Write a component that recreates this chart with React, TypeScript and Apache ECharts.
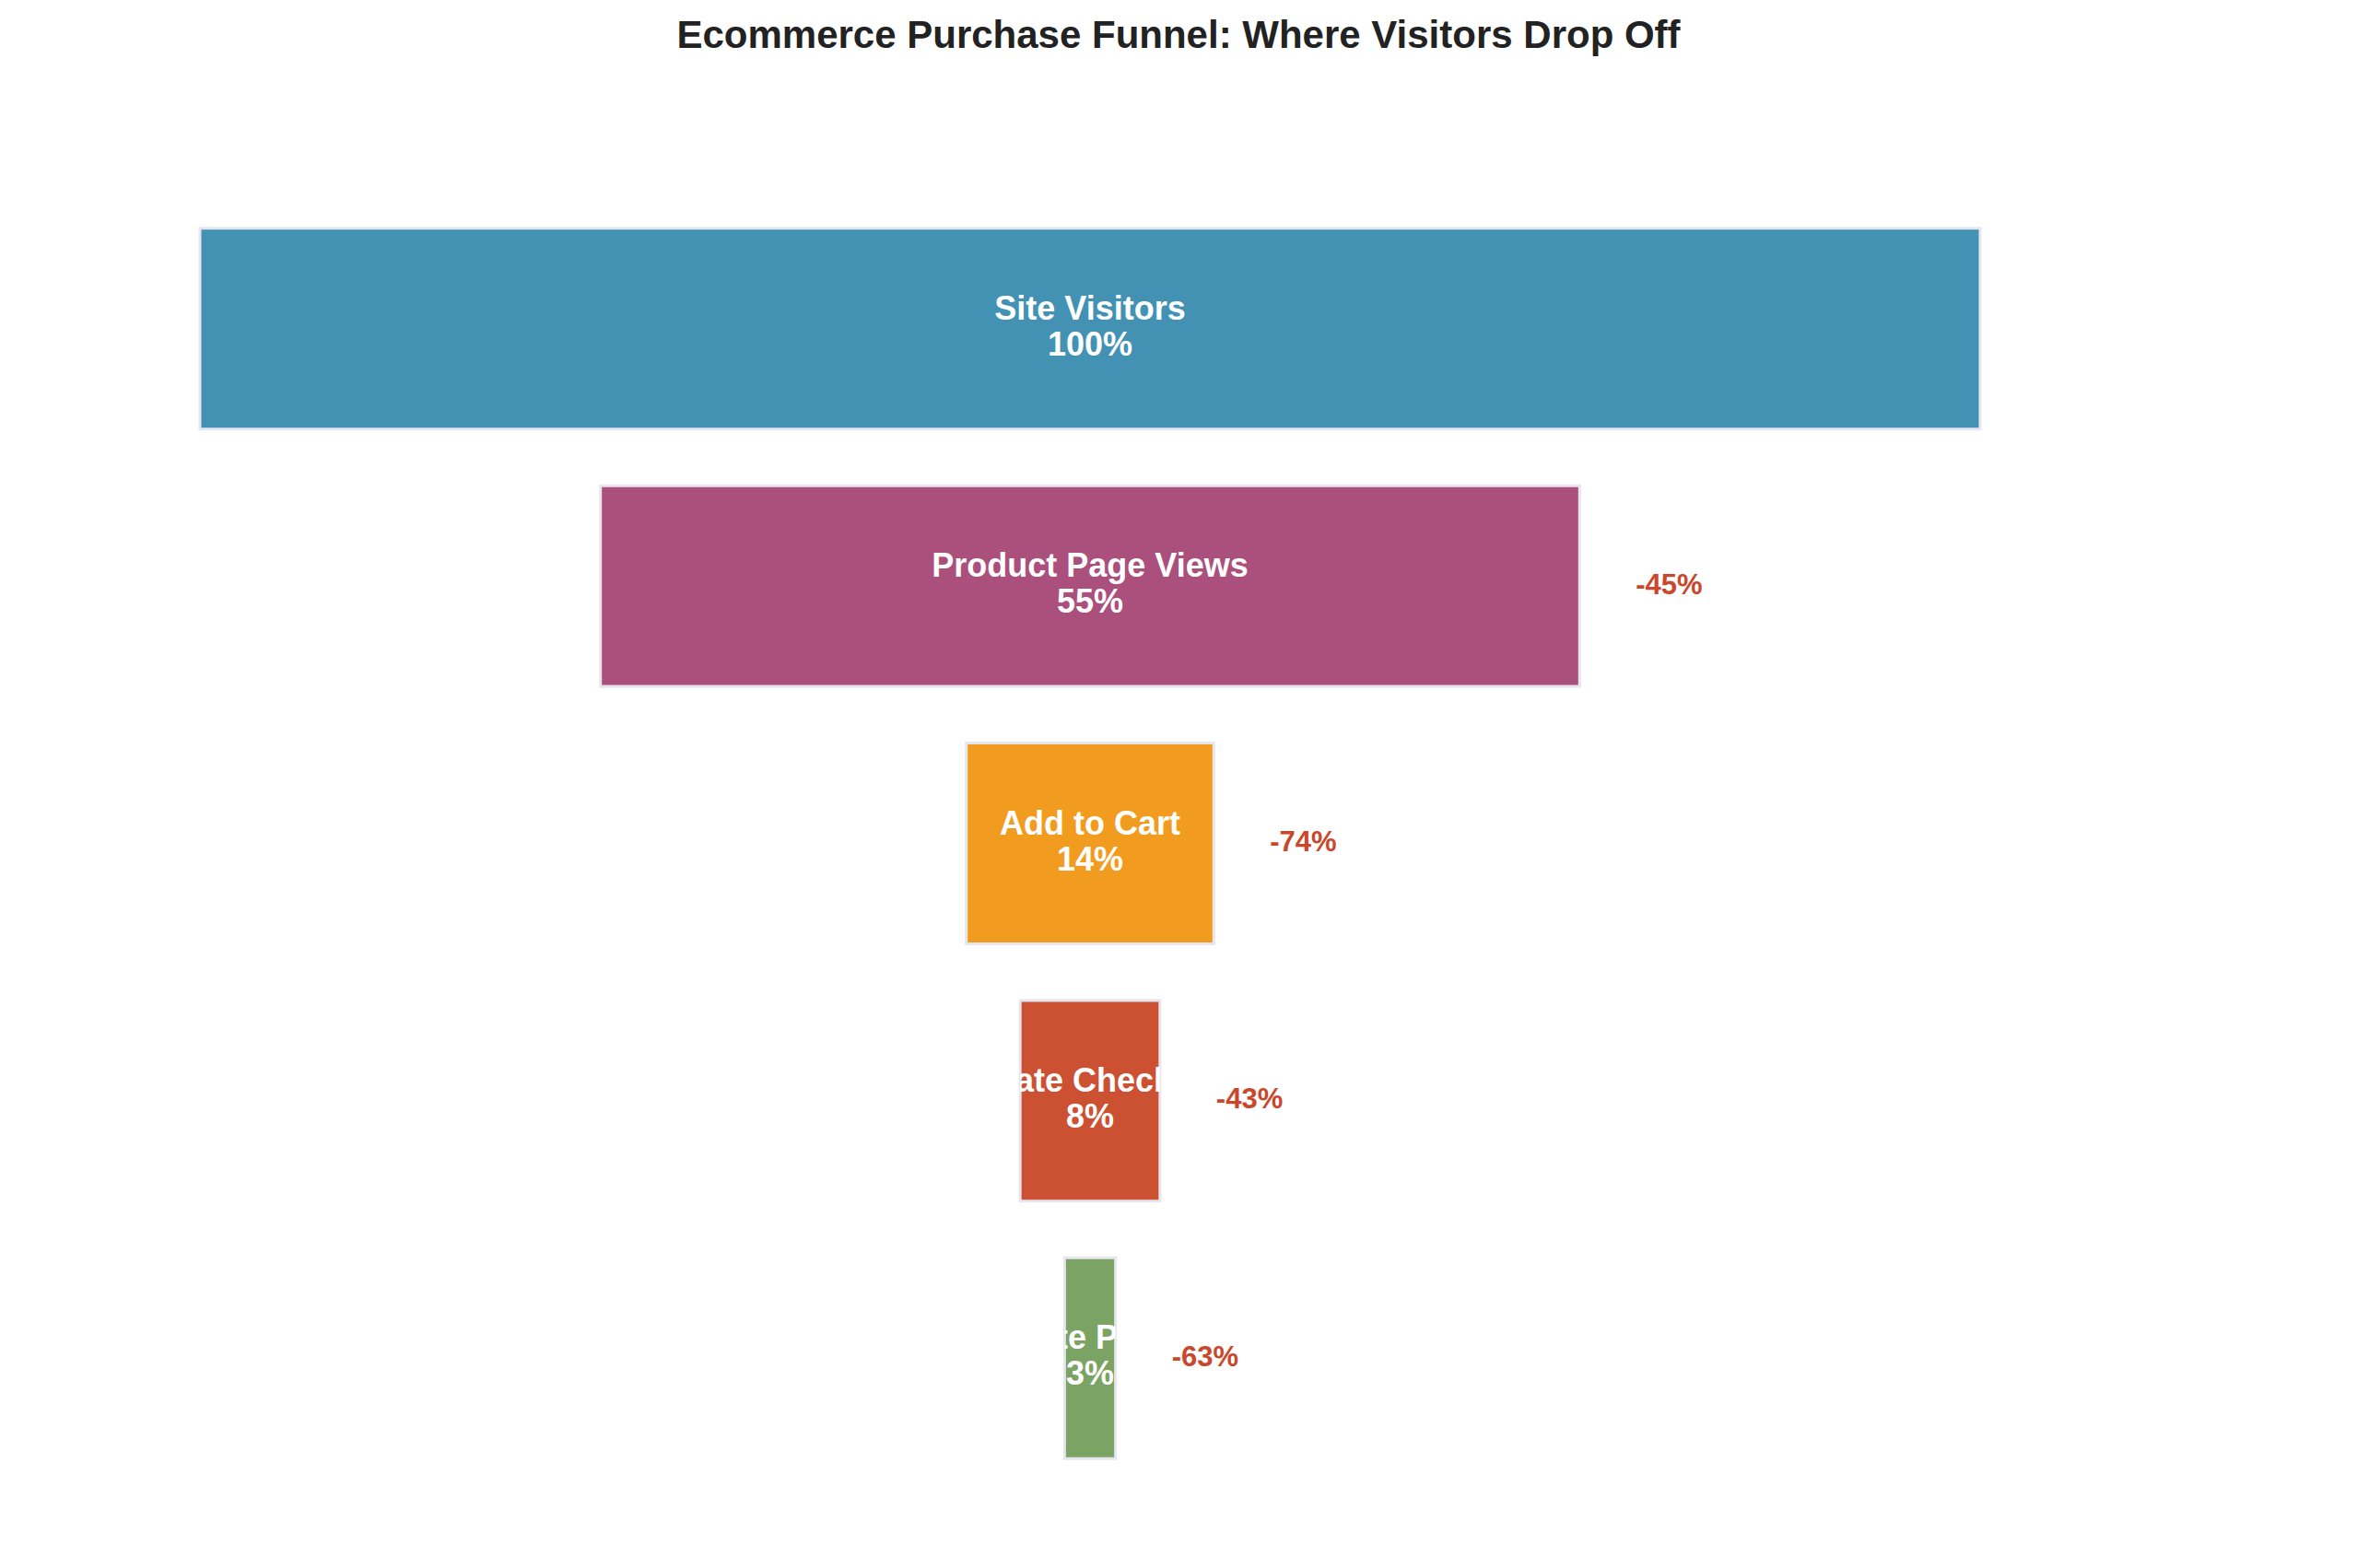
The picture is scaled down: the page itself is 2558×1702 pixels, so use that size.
import React, { useEffect, useRef } from "react";
import * as echarts from "echarts";

const stages = ["Site Visitors", "Product Page Views", "Add to Cart", "Initiate Checkout", "Complete Purchase"];
const values = [100, 55, 13.9, 7.85, 2.86];
const colors = ["#4392B4", "#AB4F7D", "#F19B1F", "#CC5032", "#7BA363"];
const titleText = "Ecommerce Purchase Funnel: Where Visitors Drop Off";

const FONT = "'Liberation Sans', Arial, Helvetica, sans-serif";

export default function App() {
  const ref = useRef<HTMLDivElement>(null);
  useEffect(() => {
    document.body.style.margin = "0";
    const chart = echarts.init(ref.current!, undefined, { renderer: "svg" });
    const top = values[0];
    const data = values.map((v, i) => [i, v]);
    chart.setOption({
      animation: false,
      backgroundColor: "#ffffff",
      title: {
        text: titleText,
        left: "center",
        top: 11,
        textStyle: { fontFamily: FONT, fontSize: 42, fontWeight: "bold", color: "#222222" },
      },
      grid: { left: 217, right: 409, top: 217, height: 1397 },
      xAxis: { type: "value", min: -50, max: 50, show: false },
      yAxis: { type: "category", data: stages, inverse: true, show: false },
      series: [
        {
          type: "custom",
          data,
          renderItem: (params: any, api: any) => {
            const idx = api.value(0);
            const v = api.value(1);
            const l = api.coord([-v / 2, idx]);
            const r = api.coord([v / 2, idx]);
            const bandH = api.size([0, 1])[1];
            const h = bandH * 0.78;
            const x = l[0];
            const w = r[0] - l[0];
            const y = l[1] - h / 2;
            const pct = Math.round((v / top) * 100) + "%";
            const children: any[] = [
              {
                type: "rect",
                shape: { x, y, width: w, height: h },
                style: { fill: colors[idx], stroke: "#E6E6EE", lineWidth: 3 },
              },
              {
                type: "group",
                clipPath: { type: "rect", shape: { x, y, width: w, height: h } },
                children: [
                  {
                    type: "text",
                    x: x + w / 2,
                    y: l[1] - 3,
                    style: {
                      text: stages[idx] + "\n" + pct,
                      fill: "#ffffff",
                      fontFamily: FONT,
                      fontSize: 36,
                      fontWeight: "bold",
                      lineHeight: 39,
                      align: "center",
                      verticalAlign: "middle",
                    },
                  },
                ],
              },
            ];
            if (idx > 0) {
              const prev = values[idx - 1];
              const drop = Math.trunc(((prev - v) / prev) * 100);
              children.push({
                type: "text",
                x: r[0] + 61,
                y: l[1] - 2,
                style: {
                  text: "-" + drop + "%",
                  fill: "#C9472C",
                  fontFamily: FONT,
                  fontSize: 31,
                  fontWeight: "bold",
                  align: "left",
                  verticalAlign: "middle",
                },
              });
            }
            return { type: "group", children };
          },
        },
      ],
    });
    return () => chart.dispose();
  }, []);
  return <div ref={ref} style={{ position: "fixed", left: 0, top: 0, width: 2558, height: 1702 }} />;
}
